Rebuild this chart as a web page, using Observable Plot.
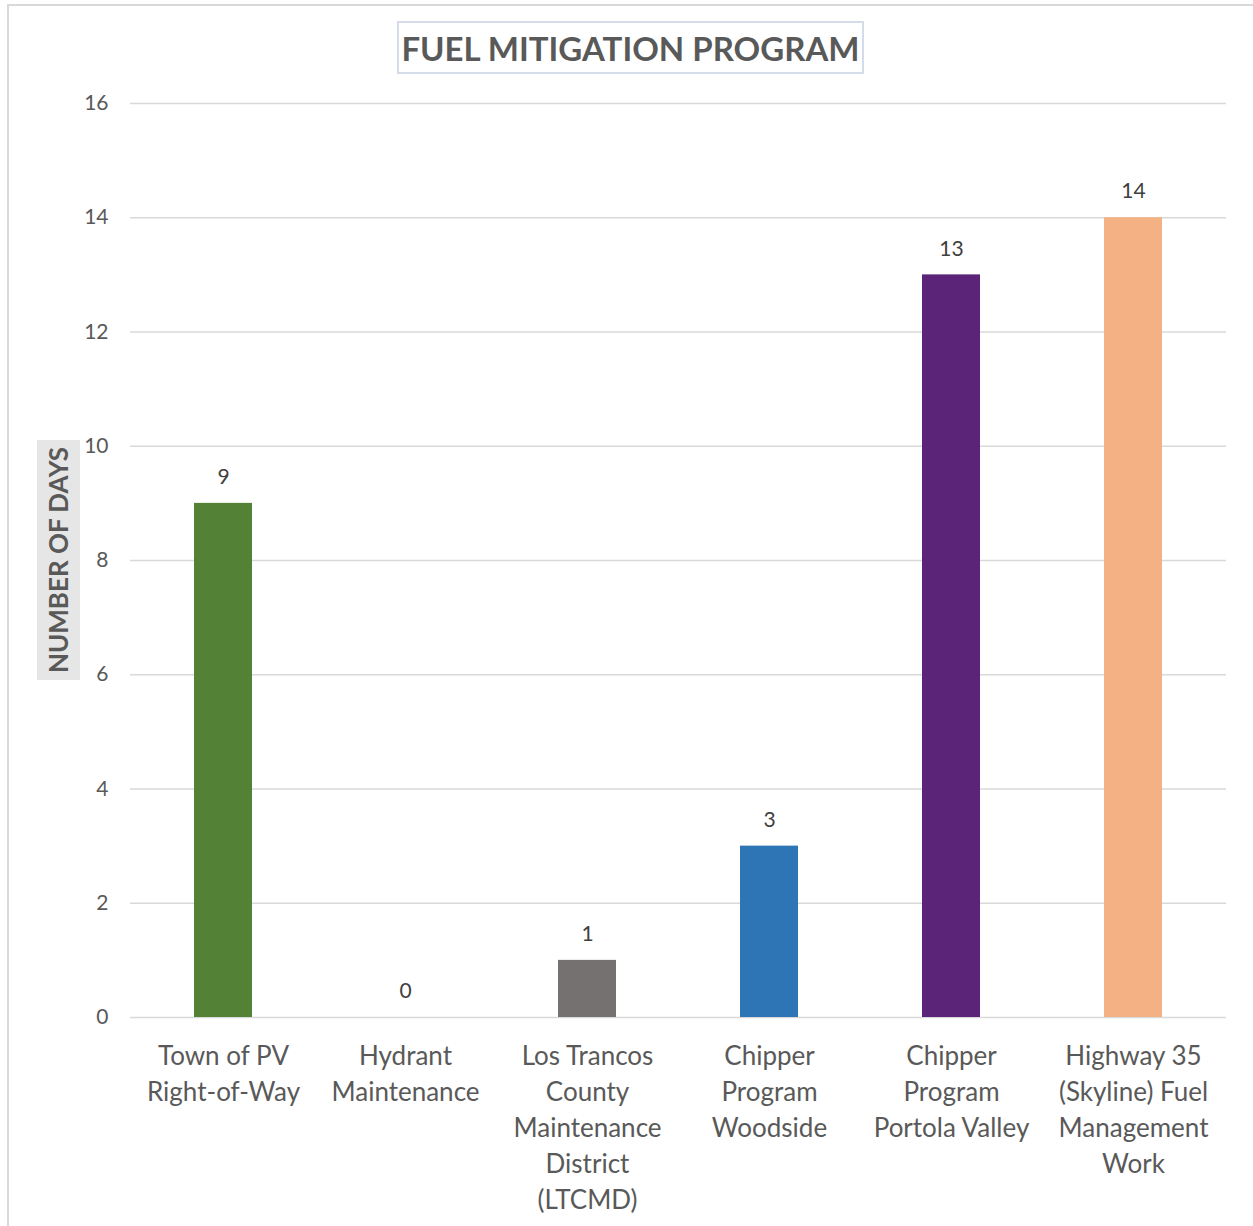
<!DOCTYPE html>
<html>
<head>
<meta charset="utf-8">
<script src="https://cdn.jsdelivr.net/npm/d3@7"></script>
<script src="https://cdn.jsdelivr.net/npm/@observablehq/plot@0.6"></script>
<style>
  html, body { margin: 0; padding: 0; background: #fff; }
  #wrap { position: relative; width: 1253px; height: 1226px; overflow: hidden; font-family: Lato, "Open Sans", sans-serif; }
  #frame { position: absolute; left: 7px; top: 4px; width: 1260px; height: 1240px; border: 2px solid #d9d9d9; box-sizing: border-box; }
  #title { position: absolute; left: 397px; top: 21px; width: 467px; height: 53px; box-sizing: border-box;
           border: 2px solid #d4dcea; background: #fff; color: #595959; font-weight: bold; font-size: 33px;
           display: flex; align-items: center; justify-content: center; white-space: nowrap; }
  #ylab { position: absolute; left: 37px; top: 440px; width: 43px; height: 240px; background: #e7e6e6;
          display: flex; align-items: center; justify-content: center; }
  #ylab span { transform: rotate(-90deg); white-space: nowrap; color: #595959; font-weight: bold; font-size: 26px; }
  #chart { position: absolute; left: 0; top: 0; }
</style>
</head>
<body>
<div id="wrap">
  <div id="frame"></div>
  <div id="chart"></div>
  <div id="title">FUEL MITIGATION PROGRAM</div>
  <div id="ylab"><span>NUMBER OF DAYS</span></div>
</div>
<script>
const categories = [
  "Town of PV\nRight-of-Way",
  "Hydrant\nMaintenance",
  "Los Trancos\nCounty\nMaintenance\nDistrict\n(LTCMD)",
  "Chipper\nProgram\nWoodside",
  "Chipper\nProgram\nPortola Valley",
  "Highway 35\n(Skyline) Fuel\nManagement\nWork"
];
const values = [9, 0, 1, 3, 13, 14];
const colors = ["#538135", "#a5a5a5", "#767171", "#2e75b6", "#5b2479", "#f4b183"];
const yTicks = [0, 2, 4, 6, 8, 10, 12, 14, 16];

const data = categories.map((c, i) => ({category: c, value: values[i], color: colors[i]}));

const chart = Plot.plot({
  width: 1253,
  height: 1226,
  marginLeft: 130,
  marginRight: 27,
  marginTop: 103,
  marginBottom: 209,
  style: {fontFamily: "Lato, 'Open Sans', sans-serif", background: "transparent", color: "#595959"},
  x: {domain: categories, paddingInner: 0.68, paddingOuter: 0.34, label: null},
  y: {domain: [0, 16], ticks: yTicks, label: null},
  marks: [
    Plot.gridY(yTicks, {stroke: "#d9d9d9", strokeOpacity: 1, strokeWidth: 1.5}),
    Plot.barY(data, {x: "category", y: "value", fill: "color"}),
    Plot.text(data, {x: "category", y: "value", text: d => String(d.value), dy: -26, fontSize: 21, fill: "#404040"}),
    Plot.axisY(yTicks, {tickSize: 0, tickPadding: 22, fontSize: 21, fill: "#595959", label: null, tickFormat: d => String(d)}),
    Plot.axisX({tickSize: 0, tickPadding: 22, fontSize: 26, lineHeight: 1.385, fill: "#595959", label: null, textAnchor: "middle"})
  ]
});
document.getElementById("chart").appendChild(chart);
</script>
</body>
</html>
